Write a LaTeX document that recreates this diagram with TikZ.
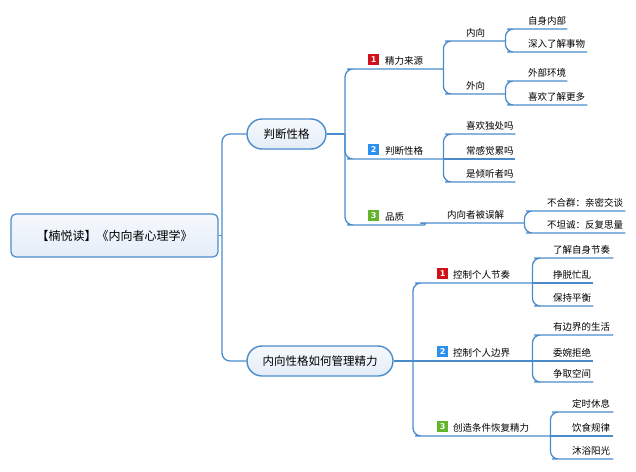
\documentclass[tikz,border=0pt]{standalone}
\usepackage{fontspec}
\setmainfont{Noto Sans CJK SC}
\newfontfamily\badgefont{DejaVu Sans}
\definecolor{lineblue}{HTML}{4A8CCB}
\definecolor{filltop}{HTML}{F6F9FD}
\definecolor{fillbot}{HTML}{E4EDF8}
\definecolor{bred}{HTML}{D2101C}
\definecolor{bblue}{HTML}{2C90F0}
\definecolor{bgreen}{HTML}{62B52B}
\newcommand\mmbadge[2]{\raisebox{0pt}{\setlength\fboxsep{0pt}\colorbox{#1}{\makebox[11pt][c]{\rule{0pt}{10.5pt}\raisebox{2.2pt}{\color{white}\badgefont\bfseries\fontsize{8}{8}\selectfont #2}}}}}
\newcommand\itm[3]{\makebox[#1pt][l]{\hspace*{#2pt}#3}}
\tikzset{
  conn/.style={draw=lineblue, line width=1.3pt, rounded corners=8pt},
  item/.style={anchor=south west, inner sep=0pt, text height=9.5pt, text depth=4pt, font=\fontsize{9.5}{11}\selectfont},
  pill/.style={draw=lineblue, line width=1.4pt, rounded corners=15pt, minimum height=30pt, inner sep=0pt, top color=filltop, bottom color=fillbot, font=\fontsize{11.5}{13}\selectfont},
  rootbox/.style={draw=lineblue, line width=1.2pt, rounded corners=5pt, minimum width=207pt, minimum height=43pt, inner sep=0pt, top color=filltop, bottom color=fillbot, font=\fontsize{12}{14}\selectfont}
}
\begin{document}
\begin{tikzpicture}[x=1pt, y=-1pt]
\useasboundingbox (0,0) rectangle (636,471);
% level 0 and 1
\node[rootbox] (root) at (114.5,235.5) {【楠悦读】《内向者心理学》};
\node[pill, minimum width=79pt] (p1) at (286.5,134) {判断性格};
\node[pill, minimum width=146pt] (p2) at (320,361) {内向性格如何管理精力};
\coordinate (s0) at (222,235.5);
\coordinate (sA) at (345,134);
\coordinate (sB) at (413,361);
% group A
\node[item] (a1) at (355,69) {\itm{88}{13}{\mmbadge{bred}{1}\hspace{6pt}精力来源}};
\node[item] (a2) at (355,159) {\itm{88}{13}{\mmbadge{bblue}{2}\hspace{6pt}判断性格}};
\node[item] (a3) at (355,225) {\itm{68}{13}{\mmbadge{bgreen}{3}\hspace{6pt}品质}};
\node[item] (a31) at (428,223) {\itm{96}{19}{内向者被误解}};
\node[item] (a11) at (453,41) {\itm{52}{13}{内向}};
\node[item] (a12) at (453,94) {\itm{52}{13}{外向}};
\node[item] (a111) at (515,29) {\itm{52}{13}{自身内部}};
\node[item] (a112) at (515,52) {\itm{72}{13}{深入了解事物}};
\node[item] (a121) at (515,81) {\itm{52}{13}{外部环境}};
\node[item] (a122) at (515,105) {\itm{72}{13}{喜欢了解更多}};
\node[item] (a21) at (453,134) {\itm{62}{13}{喜欢独处吗}};
\node[item] (a22) at (453,159) {\itm{62}{13}{常感觉累吗}};
\node[item] (a23) at (453,182) {\itm{62}{13}{是倾听者吗}};
\node[item] (a311) at (534,211) {\itm{91}{13}{不合群：亲密交谈}};
\node[item] (a312) at (534,233) {\itm{91}{13}{不坦诚：反复思量}};
% group B
\node[item] (b1) at (423,283) {\itm{109}{14}{\mmbadge{bred}{1}\hspace{5pt}控制个人节奏}};
\node[item] (b2) at (423,361) {\itm{109}{14}{\mmbadge{bblue}{2}\hspace{5pt}控制个人边界}};
\node[item] (b3) at (423,436) {\itm{127}{14}{\mmbadge{bgreen}{3}\hspace{5pt}创造条件恢复精力}};
\node[item] (b11) at (542,258) {\itm{71}{11}{了解自身节奏}};
\node[item] (b12) at (542,283) {\itm{51}{11}{挣脱忙乱}};
\node[item] (b13) at (542,306) {\itm{51}{11}{保持平衡}};
\node[item] (b21) at (542,335) {\itm{71}{11}{有边界的生活}};
\node[item] (b22) at (542,361) {\itm{51}{11}{委婉拒绝}};
\node[item] (b23) at (542,382) {\itm{51}{11}{争取空间}};
\node[item] (b31) at (560,412) {\itm{53}{12}{定时休息}};
\node[item] (b32) at (560,436) {\itm{53}{12}{饮食规律}};
\node[item] (b33) at (560,459) {\itm{53}{12}{沐浴阳光}};
% connectors: root
\draw[conn] (root.east) -- (s0);
\draw[conn] (s0) |- (p1.west);
\draw[conn] (s0) |- (p2.west);
% group A
\draw[conn] (p1.east) -- (sA);
\draw[conn] (sA) |- (a1.south west) -- (a1.south east);
\draw[conn] (sA) |- (a2.south west) -- (a2.south east);
\draw[conn] (sA) |- (a3.south west) -- (a3.south east);
\draw[conn] (a3.south east) .. controls +(3,0) and +(-2,0) .. (a31.south west) -- (a31.south east);
\draw[conn] (a1.south east) |- (a11.south west) -- (a11.south east);
\draw[conn] (a1.south east) |- (a12.south west) -- (a12.south east);
\draw[conn] (a11.south east) |- (a111.south west) -- (a111.south east);
\draw[conn] (a11.south east) |- (a112.south west) -- (a112.south east);
\draw[conn] (a12.south east) |- (a121.south west) -- (a121.south east);
\draw[conn] (a12.south east) |- (a122.south west) -- (a122.south east);
\draw[conn] (a2.south east) |- (a21.south west) -- (a21.south east);
\draw[conn] (a2.south east) -- (a22.south west) -- (a22.south east);
\draw[conn] (a2.south east) |- (a23.south west) -- (a23.south east);
\draw[conn] (a31.south east) |- (a311.south west) -- (a311.south east);
\draw[conn] (a31.south east) |- (a312.south west) -- (a312.south east);
% group B
\draw[conn] (p2.east) -- (sB);
\draw[conn] (sB) |- (b1.south west) -- (b1.south east);
\draw[conn] (sB) -- (b2.south west) -- (b2.south east);
\draw[conn] (sB) |- (b3.south west) -- (b3.south east);
\draw[conn] (b1.south east) |- (b11.south west) -- (b11.south east);
\draw[conn] (b1.south east) -- (b12.south west) -- (b12.south east);
\draw[conn] (b1.south east) |- (b13.south west) -- (b13.south east);
\draw[conn] (b2.south east) |- (b21.south west) -- (b21.south east);
\draw[conn] (b2.south east) -- (b22.south west) -- (b22.south east);
\draw[conn] (b2.south east) |- (b23.south west) -- (b23.south east);
\draw[conn] (b3.south east) |- (b31.south west) -- (b31.south east);
\draw[conn] (b3.south east) -- (b32.south west) -- (b32.south east);
\draw[conn] (b3.south east) |- (b33.south west) -- (b33.south east);
\end{tikzpicture}
\end{document}
